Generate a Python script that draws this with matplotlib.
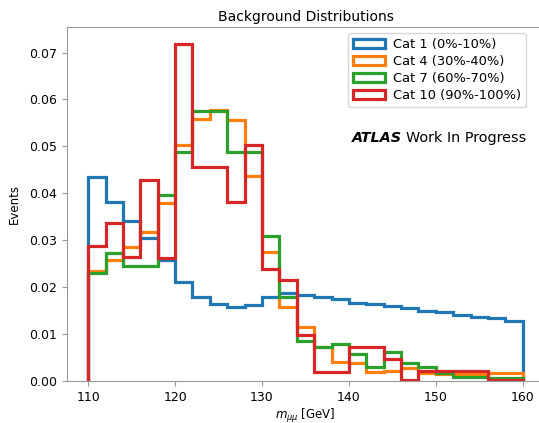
import numpy as np
import matplotlib
matplotlib.use("Agg")
import matplotlib.pyplot as plt

edges = np.arange(110, 161, 2)

cat1 = [0.0435, 0.0382, 0.0341, 0.0305, 0.0258, 0.0210, 0.0180, 0.0164, 0.0158, 0.0162,
        0.0179, 0.0187, 0.0183, 0.0180, 0.0174, 0.0167, 0.0164, 0.0160, 0.0155, 0.0150,
        0.0146, 0.0141, 0.0136, 0.0135, 0.0128]
cat4 = [0.0235, 0.0258, 0.0285, 0.0318, 0.0379, 0.0502, 0.0558, 0.0578, 0.0556, 0.0436,
        0.0274, 0.0158, 0.0115, 0.0072, 0.0041, 0.0038, 0.0020, 0.0022, 0.0028, 0.0016,
        0.0015, 0.0015, 0.0015, 0.0017, 0.0017]
cat7 = [0.0231, 0.0272, 0.0245, 0.0245, 0.0397, 0.0489, 0.0576, 0.0576, 0.0489, 0.0489,
        0.0308, 0.0179, 0.0086, 0.0073, 0.0079, 0.0057, 0.0030, 0.0062, 0.0038, 0.0030,
        0.0016, 0.0009, 0.0009, 0.0006, 0.0006]
cat10 = [0.0288, 0.0336, 0.0264, 0.0429, 0.0263, 0.0719, 0.0456, 0.0456, 0.0382, 0.0503,
         0.0238, 0.0215, 0.0098, 0.0020, 0.0020, 0.0072, 0.0072, 0.0046, 0.0002, 0.0022,
         0.0022, 0.0022, 0.0022, 0.0002, 0.0002]

labels = ["Cat 1 (0%-10%)", "Cat 4 (30%-40%)", "Cat 7 (60%-70%)", "Cat 10 (90%-100%)"]
series = [cat1, cat4, cat7, cat10]
colors = ["#1f77b4", "#ff7f0e", "#2ca02c", "#d62728"]

fig = plt.figure(figsize=(5.39, 4.23), dpi=100)
ax = fig.add_axes([66.5/539, 1 - 381/423, (539 - 66.5)/539 + 0.01, (381 - 26.7)/423])

centers = 0.5 * (edges[:-1] + edges[1:])
for vals, lab, c in zip(series, labels, colors):
    ax.hist(centers, bins=edges, weights=vals, histtype="step", linewidth=2.3,
            color=c, label=lab)

ax.set_ylim(0, 0.0755)
ax.set_xlim(107.5, 162.5)
ax.set_title("Background Distributions", fontsize=10, pad=4)
ax.set_xlabel(r"$m_{\mu\mu}$ [GeV]", fontsize=8.5, labelpad=2)
ax.set_ylabel("Events", fontsize=8.5, labelpad=6)
ax.tick_params(labelsize=9)
for s in ax.spines.values():
    s.set_color("#999999")
ax.tick_params(color="#999999")

leg = ax.legend(loc="upper right", bbox_to_anchor=(0.975, 1.0), fontsize=9.4,
                frameon=True, handlelength=2.4, borderpad=0.4, labelspacing=0.3,
                handletextpad=0.6)

fig.canvas.draw()
t1 = ax.text(352 / 539, 1 - 138 / 423, "ATLAS", transform=fig.transFigure,
             fontsize=10.4, fontweight="bold", fontstyle="italic", va="center", ha="left")
fig.canvas.draw()
bb = t1.get_window_extent()
x2 = bb.x1 / fig.bbox.width + 0.007
ax.text(x2, 1 - 138 / 423, "Work In Progress", transform=fig.transFigure,
        fontsize=10.4, va="center", ha="left")

fig.savefig("out.png", dpi=100)
